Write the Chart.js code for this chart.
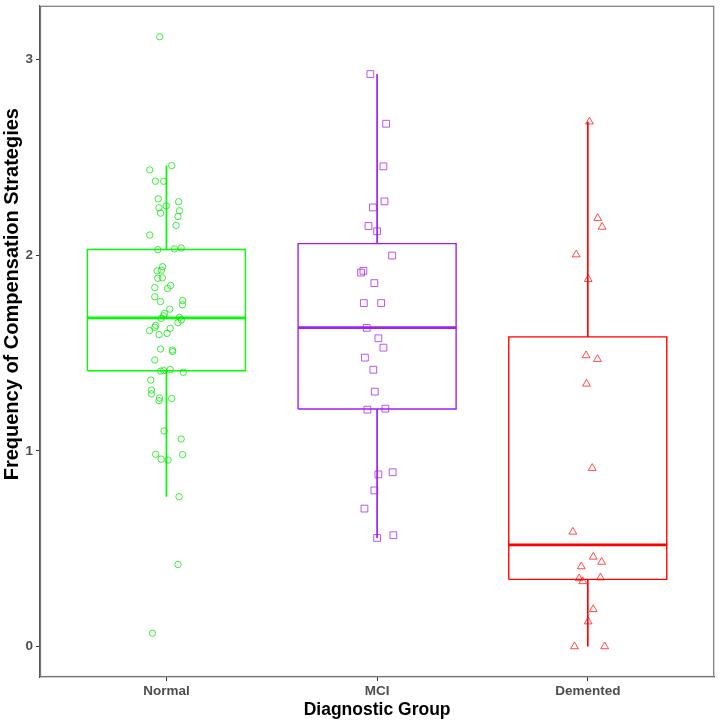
<!DOCTYPE html>
<html>
<head>
<meta charset="utf-8">
<script src="https://cdn.jsdelivr.net/npm/chart.js@4.4.1/dist/chart.umd.min.js"></script>
<style>
  html, body { margin: 0; padding: 0; background: #fff; }
</style>
</head>
<body>
<canvas id="chart" width="720" height="722"></canvas>
<script>
// groups and box statistics
const groups = ['Normal', 'MCI', 'Demented'];
const groupColors = ['#00ff00', '#a020f0', '#ff0000'];
const pointColors = ['rgba(0,230,0,0.75)', 'rgba(160,32,240,0.75)', 'rgba(255,0,0,0.7)'];
const groupShapes = ['circle', 'rect', 'triangle'];
const groupRadius = [3.2, 4.8, 4.5];

const boxQ1 = [1.41, 1.214, 0.343];
const boxMedian = [1.68, 1.630, 0.520];
const boxQ3 = [2.03, 2.060, 1.583];
const whiskerLow = [0.766, 0.555, 0.0];
const whiskerHigh = [2.459, 2.927, 2.683];

const yTicks = [0, 1, 2, 3];

// jittered observations: [horizontal jitter, value]
const normalPoints = [
  [-0.032, 3.118], [0.025, 2.459], [-0.079, 2.437], [-0.052, 2.379], [-0.013, 2.379],
  [-0.039, 2.289], [0.058, 2.274], [-0.035, 2.243], [-0.001, 2.253], [0.062, 2.228],
  [-0.028, 2.216], [0.055, 2.199], [0.046, 2.153], [-0.079, 2.104], [-0.041, 2.029],
  [0.038, 2.033], [0.070, 2.038], [-0.018, 1.942], [-0.044, 1.921], [-0.024, 1.924],
  [-0.041, 1.883], [-0.019, 1.885], [-0.055, 1.835], [0.005, 1.830], [0.020, 1.846],
  [-0.055, 1.788], [-0.028, 1.764], [0.077, 1.769], [0.076, 1.747], [0.016, 1.725],
  [-0.009, 1.703], [-0.013, 1.691], [-0.025, 1.678], [0.062, 1.683], [0.071, 1.670],
  [0.055, 1.656], [-0.051, 1.642], [-0.055, 1.632], [-0.080, 1.615], [0.018, 1.627],
  [-0.035, 1.595], [0.003, 1.601], [-0.028, 1.521], [0.028, 1.516], [0.030, 1.508],
  [-0.055, 1.465], [-0.027, 1.408], [-0.013, 1.411], [0.018, 1.416], [0.080, 1.402],
  [-0.074, 1.362], [-0.071, 1.311], [-0.071, 1.292], [-0.033, 1.270], [-0.035, 1.257],
  [0.025, 1.268], [-0.011, 1.102], [0.070, 1.061], [-0.051, 0.983], [0.077, 0.981],
  [-0.025, 0.958], [0.008, 0.953], [0.060, 0.766], [0.055, 0.419], [-0.066, 0.068]
];
const mciPoints = [
  [-0.032, 2.927], [0.043, 2.673], [0.030, 2.455], [0.035, 2.276], [-0.020, 2.245],
  [-0.041, 2.150], [0.000, 2.123], [0.071, 1.999], [-0.065, 1.921], [-0.076, 1.912],
  [-0.013, 1.858], [-0.063, 1.756], [0.019, 1.756], [-0.049, 1.629], [0.006, 1.576],
  [0.030, 1.528], [-0.058, 1.477], [-0.018, 1.415], [-0.011, 1.303], [-0.046, 1.211],
  [0.039, 1.216], [0.006, 0.880], [0.074, 0.891], [-0.013, 0.798], [-0.060, 0.705],
  [0.000, 0.555], [0.077, 0.569]
];
const dementedPoints = [
  [0.008, 2.683], [0.047, 2.190], [0.068, 2.145], [-0.055, 2.004], [0.002, 1.878],
  [-0.008, 1.488], [0.046, 1.469], [-0.006, 1.343], [0.021, 0.912], [-0.071, 0.586],
  [0.026, 0.458], [-0.031, 0.409], [0.066, 0.432], [-0.041, 0.348], [-0.024, 0.333],
  [0.060, 0.352], [0.026, 0.190], [0.002, 0.127], [-0.063, 0.000], [0.080, 0.000]
];
const groupPoints = [normalPoints, mciPoints, dementedPoints];

const halfWidth = 0.375;

function lineSet(data, color, width) {
  return {
    data: data,
    showLine: true,
    pointRadius: 0,
    borderColor: color,
    borderWidth: width,
    borderJoinStyle: 'miter',
    fill: false,
    tension: 0
  };
}

const datasets = [];
groups.forEach((g, i) => {
  const c = i + 1;
  datasets.push({
    label: g,
    data: groupPoints[i].map(([dx, y]) => ({ x: c + dx, y: y })),
    pointStyle: groupShapes[i],
    pointRadius: groupRadius[i],
    borderColor: pointColors[i],
    backgroundColor: 'rgba(0,0,0,0)',
    borderWidth: 1
  });
});
groups.forEach((g, i) => {
  const c = i + 1;
  const col = groupColors[i];
  datasets.push(lineSet([
    { x: c - halfWidth, y: boxQ1[i] }, { x: c + halfWidth, y: boxQ1[i] },
    { x: c + halfWidth, y: boxQ3[i] }, { x: c - halfWidth, y: boxQ3[i] },
    { x: c - halfWidth, y: boxQ1[i] }
  ], col, 1.4));
  datasets.push(lineSet([{ x: c - halfWidth, y: boxMedian[i] }, { x: c + halfWidth, y: boxMedian[i] }], col, 2.8));
  datasets.push(lineSet([{ x: c, y: boxQ3[i] }, { x: c, y: whiskerHigh[i] }], col, 1.7));
  datasets.push(lineSet([{ x: c, y: whiskerLow[i] }, { x: c, y: boxQ1[i] }], col, 1.7));
});

// panel border on top and right
const panelFrame = {
  id: 'panelFrame',
  afterDraw(chart) {
    const { ctx, chartArea: a } = chart;
    ctx.save();
    ctx.strokeStyle = '#777';
    ctx.lineWidth = 1.2;
    ctx.strokeRect(a.left + 0.5, a.top + 0.5, a.right - a.left - 1, a.bottom - a.top - 1);
    ctx.restore();
  }
};

const fontFamily = 'Liberation Sans, Arial, sans-serif';
const tickFont = { family: fontFamily, size: 13.5, weight: 'bold' };

// the y title sits higher than the panel centre in the original
const yTitle = ' '.repeat(17) + 'Frequency of Compensation Strategies';

new Chart(document.getElementById('chart'), {
  type: 'scatter',
  data: { datasets },
  options: {
    responsive: false,
    animation: false,
    layout: { padding: { top: 2, right: 4, left: 0, bottom: 0 } },
    plugins: { legend: { display: false }, tooltip: { enabled: false } },
    scales: {
      x: {
        type: 'linear',
        min: 0.4,
        max: 3.6,
        afterBuildTicks: s => { s.ticks = groups.map((g, i) => ({ value: i + 1 })); },
        afterFit: s => { s.height = 45; s.paddingLeft = 0; s.paddingRight = 0; },
        grid: { drawOnChartArea: false, drawTicks: true, tickLength: 4, color: '#333' },
        border: { display: true, color: '#555', width: 1.2 },
        ticks: {
          callback: v => groups[Math.round(v) - 1],
          color: '#4d4d4d',
          font: tickFont,
          padding: 2,
          maxRotation: 0
        },
        title: {
          display: true,
          text: 'Diagnostic Group',
          color: '#000',
          font: { family: fontFamily, size: 17.5, weight: 'bold' },
          padding: { top: 0, bottom: 1 }
        }
      },
      y: {
        type: 'linear',
        min: -0.156,
        max: 3.276,
        afterBuildTicks: s => { s.ticks = yTicks.map(v => ({ value: v })); },
        afterFit: s => { s.width = 40; s.paddingTop = 0; s.paddingBottom = 0; },
        grid: { drawOnChartArea: false, drawTicks: true, tickLength: 4, color: '#333' },
        border: { display: true, color: '#555', width: 1.2 },
        ticks: {
          callback: v => String(v),
          color: '#4d4d4d',
          font: tickFont,
          padding: 3
        },
        title: {
          display: true,
          text: yTitle,
          color: '#000',
          font: { family: fontFamily, size: 20, weight: 'bold', lineHeight: 1.0 },
          padding: { top: 2, bottom: 0 }
        }
      }
    }
  },
  plugins: [panelFrame]
});
</script>
</body>
</html>
